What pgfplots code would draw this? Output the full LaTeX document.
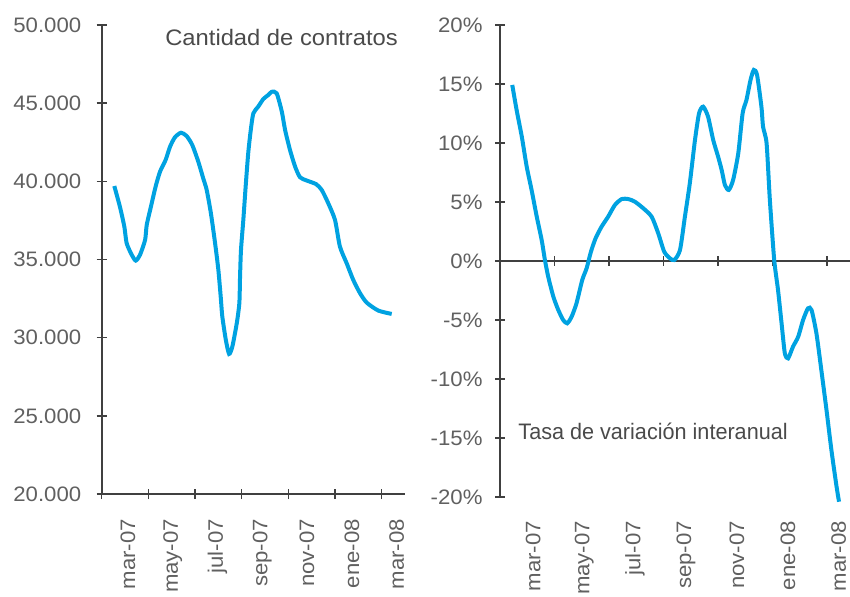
\documentclass[border=0pt]{standalone}
\usepackage{fontspec}
\setmainfont[FakeStretch=1.06]{Liberation Sans}
\usepackage{graphicx}
\usepackage{pgfplots}
\pgfplotsset{compat=1.18}

\definecolor{serie}{HTML}{00A2E1}
\definecolor{eje}{HTML}{404040}
\definecolor{txt}{HTML}{606060}
\definecolor{tit}{HTML}{4A4A4A}

\pgfplotsset{
  panel/.style={
    scale only axis, clip=false,
    axis x line*=bottom, axis y line*=left,
    axis line style={eje, line width=1.8bp},
    xmin=0, xmax=13,
    scaled y ticks=false,
    xtick style={draw=none},
    ytick style={eje, line width=1.5bp},
    major tick length=10bp, tick align=center,
    tick label style={txt, font=\fontsize{21}{24}\selectfont},
    xticklabels={mar-07,may-07,jul-07,sep-07,nov-07,ene-08,mar-08},
  },
  linea/.style={serie, line width=4bp, smooth, tension=0.4, no markers},
}

\begin{document}
\begin{tikzpicture}
\useasboundingbox (0,0) rectangle (850bp,597bp);

% numero de contratos
\begin{axis}[panel,
    at={(101.7bp,103bp)}, anchor=south west,
    width=303.3bp, height=469bp,
    ymin=20000, ymax=50000,
    ytick={20000,25000,30000,35000,40000,45000,50000},
    yticklabels={20.000,25.000,30.000,35.000,40.000,45.000,50.000},
    yticklabel style={xshift=-12bp},
    xtick={1.12,3.04,4.96,6.88,8.80,10.72,12.64},
    xticklabel style={yshift=-16.5bp, rotate=90, anchor=east},
  ]
  \addplot[linea] coordinates {
    (0.54,39700) (0.78,38380) (0.97,37100) (1.07,36040) (1.29,35290)
    (1.46,34930) (1.64,35290) (1.86,36250) (1.93,37210) (2.11,38380)
    (2.31,39660) (2.50,40620) (2.74,41370) (2.93,42220) (3.14,42820)
    (3.40,43110) (3.64,42900) (3.88,42330) (4.14,41260) (4.35,40200)
    (4.50,39450) (4.68,37960) (4.86,36040) (5.00,34340) (5.10,32630)
    (5.17,31350) (5.32,29860) (5.46,28960) (5.60,29430) (5.79,30930)
    (5.90,32210) (5.93,33910) (5.97,35610) (6.07,37530) (6.17,39660)
    (6.28,41800) (6.39,43290) (6.50,44350) (6.71,44780) (6.93,45270)
    (7.14,45520) (7.29,45730) (7.50,45630) (7.72,44460) (7.86,43290)
    (8.07,42010) (8.29,40940) (8.50,40260) (8.79,40050) (9.19,39820)
    (9.43,39450) (9.71,38600) (10.00,37530) (10.21,35830) (10.50,34760)
    (10.78,33700) (11.07,32850) (11.36,32240) (11.86,31730) (12.43,31520)
  };
  \pgfplotsinvokeforeach{0,2,4,6,8,10,12}{
    \draw[eje, line width=1.5bp] ([yshift=-5bp]axis cs:#1,20000) -- ([yshift=5bp]axis cs:#1,20000);
  }
  \node[tit, anchor=base east, inner sep=0pt, font=\fontsize{22.5}{26}\selectfont]
    at (axis cs:12.7,48720) {Cantidad de contratos};
\end{axis}

% tasa de variacion interanual
\begin{axis}[panel,
    at={(500bp,100bp)}, anchor=south west,
    width=354bp, height=472bp,
    ymin=-20, ymax=20,
    x axis line style={draw=none},
    ytick={-20,-15,-10,-5,0,5,10,15,20},
    yticklabels={-20\%,-15\%,-10\%,-5\%,0\%,5\%,10\%,15\%,20\%},
    yticklabel style={xshift=-9bp},
    xtick={1.22,3.09,4.96,6.83,8.70,10.57,12.44},
    xticklabel style={yshift=-15.5bp, rotate=90, anchor=east},
  ]
  \draw[eje, line width=1.8bp] (axis cs:0,0) -- (axis cs:13,0);
  \pgfplotsinvokeforeach{2,4,6,8,10,12}{
    \draw[eje, line width=1.5bp] ([yshift=-5bp]axis cs:#1,0) -- ([yshift=5bp]axis cs:#1,0);
  }
  \addplot[linea] coordinates {
    (0.45,14.92) (0.61,12.80) (0.80,10.54) (0.98,8.00) (1.16,6.02)
    (1.35,3.75) (1.53,1.78) (1.65,0.08) (1.77,-1.33) (1.96,-3.03)
    (2.14,-4.15) (2.32,-5.00) (2.47,-5.28) (2.63,-4.72) (2.81,-3.58)
    (3.02,-1.61) (3.18,-0.62) (3.34,0.79) (3.51,1.92) (3.73,2.91)
    (3.97,3.75) (4.22,4.75) (4.47,5.25) (4.71,5.25) (4.95,5.03)
    (5.26,4.47) (5.57,3.75) (5.81,2.35) (6.03,0.79) (6.24,0.23)
    (6.40,0.08) (6.61,0.93) (6.79,3.75) (6.97,6.58) (7.16,10.25)
    (7.31,12.52) (7.46,13.08) (7.64,12.23) (7.83,10.25) (8.01,8.84)
    (8.14,7.71) (8.26,6.44) (8.40,6.02) (8.56,6.86) (8.75,9.13)
    (8.91,12.52) (9.05,13.64) (9.20,15.34) (9.32,16.19) (9.44,15.76)
    (9.60,13.08) (9.66,11.38) (9.79,9.97) (9.91,5.17) (10.07,0.08)
    (10.21,-2.46) (10.34,-5.28) (10.46,-7.82) (10.58,-8.25) (10.76,-7.26)
    (10.95,-6.42) (11.13,-5.00) (11.31,-4.01) (11.44,-4.15) (11.62,-6.13)
    (11.80,-9.24) (11.99,-12.63) (12.17,-16.02) (12.36,-19.13) (12.45,-20.40)
  };
  \node[tit, anchor=base west, inner sep=0pt, font=\fontsize{22.5}{26}\selectfont]
    at (axis cs:0.67,-15.1) {\scalebox{0.91}[1]{Tasa de variación interanual}};
\end{axis}
\end{tikzpicture}
\end{document}
